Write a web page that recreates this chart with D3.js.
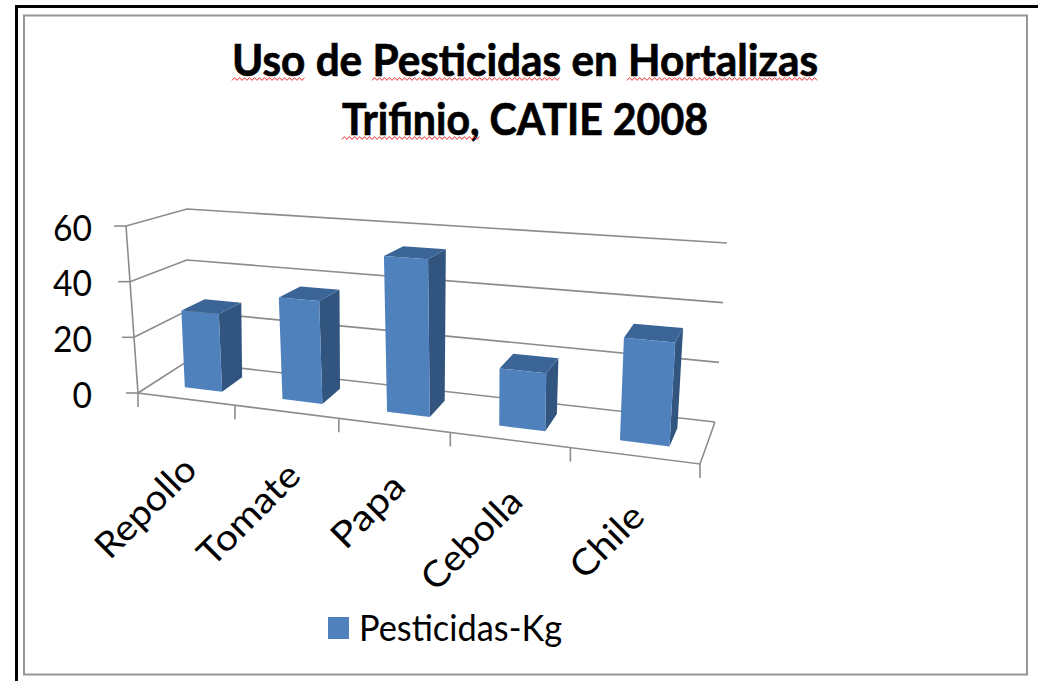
<!DOCTYPE html>
<html><head><meta charset="utf-8">
<script src="https://cdn.jsdelivr.net/npm/d3@7"></script>
<style>html,body{margin:0;padding:0;background:#fff;overflow:hidden}svg{display:block}text{font-family:Lato,Carlito,"Open Sans",sans-serif;fill:#000}</style>
</head><body><div id="chart"></div>
<script>
const titleLines = ["Uso de Pesticidas en Hortalizas", "Trifinio, CATIE 2008"];
const categories = ["Repollo", "Tomate", "Papa", "Cebolla", "Chile"];
const pesticidasKg = [28, 36, 53.5, 19, 33];
const yTicks = [0, 20, 40, 60];
const seriesName = "Pesticidas-Kg";

const W = 1038, H = 681;
const svg = d3.select("#chart").append("svg").attr("width", W).attr("height", H);
const defs = svg.append("defs");
defs.append("filter").attr("id", "soft").append("feGaussianBlur").attr("stdDeviation", 0.45);

// page frame
svg.append("path").attr("d", "M16.5,681V6.5H1038").attr("fill", "none").attr("stroke", "#000").attr("stroke-width", 3);
svg.append("rect").attr("x", 24).attr("y", 15.5).attr("width", 1003).attr("height", 659)
  .attr("fill", "#fff").attr("stroke", "#969696").attr("stroke-width", 2);

// perspective projection of the unit square (u along the front, v into depth)
function homography([p0, p1, p2, p3]) {
  const dx1 = p1[0] - p2[0], dx2 = p3[0] - p2[0], sx = p0[0] - p1[0] + p2[0] - p3[0];
  const dy1 = p1[1] - p2[1], dy2 = p3[1] - p2[1], sy = p0[1] - p1[1] + p2[1] - p3[1];
  const den = dx1 * dy2 - dx2 * dy1;
  const g = (sx * dy2 - dx2 * sy) / den, h = (dx1 * sy - sx * dy1) / den;
  const a = p1[0] - p0[0] + g * p1[0], b = p3[0] - p0[0] + h * p3[0];
  const d = p1[1] - p0[1] + g * p1[1], e = p3[1] - p0[1] + h * p3[1];
  return (u, v) => {
    const w = g * u + h * v + 1;
    return [(a * u + b * v + p0[0]) / w, (d * u + e * v + p0[1]) / w];
  };
}
const floor = homography([[138, 393], [700, 464], [715, 422], [186, 362]]);
const ceil  = homography([[126, 226], [713, 268], [727, 243], [187, 209]]);
const y = d3.scaleLinear().domain([0, 60]).range([0, 1]);
const x = d3.scaleBand().domain(categories).range([0.007, 1.007]).paddingInner(0.61).paddingOuter(0.305);
const P = (u, v, val) => {
  const a = floor(u, v), b = ceil(u, v), t = y(val);
  return [a[0] + (b[0] - a[0]) * t, a[1] + (b[1] - a[1]) * t];
};
const line = d3.line();
const plot = svg.append("g").attr("filter", "url(#soft)");
const grey = "#8c8c8c";
const stroke = s => s.attr("fill", "none").attr("stroke", grey).attr("stroke-width", 1.6);

// walls, floor and ticks
yTicks.forEach(t => {
  plot.append("path").attr("d", line([P(0, 0, t), P(0, 1, t), P(1, 1, t)])).call(stroke);
  const p = P(0, 0, t);
  plot.append("path").attr("d", line([[p[0] - 12, p[1]], p])).call(stroke);
});
plot.append("path").attr("d", line([P(0, 0, 60), P(0, 0, 0), P(1, 0, 0), P(1, 1, 0)])).call(stroke);
d3.range(categories.length + 1).forEach(i => {
  const p = P(i / categories.length, 0, 0);
  plot.append("path").attr("d", line([p, [p[0], p[1] + 14]])).call(stroke);
});

// bars
const vFront = 0.3, vBack = 0.75;
const bars = plot.selectAll("g.bar").data(categories).join("g").attr("class", "bar");
bars.each(function (c, i) {
  const g = d3.select(this), v = pesticidasKg[i];
  const u0 = x(c), u1 = x(c) + x.bandwidth();
  g.append("path").attr("fill", "#31557f").attr("d", line([P(u1, vFront, 0), P(u1, vBack, 0), P(u1, vBack, v), P(u1, vFront, v)]) + "Z");
  g.append("path").attr("fill", "#3b6596").attr("d", line([P(u0, vFront, v), P(u1, vFront, v), P(u1, vBack, v), P(u0, vBack, v)]) + "Z");
  g.append("path").attr("fill", "#4f81bd").attr("d", line([P(u0, vFront, 0), P(u1, vFront, 0), P(u1, vFront, v), P(u0, vFront, v)]) + "Z");
});

// y labels
svg.selectAll("text.ytick").data(yTicks).join("text").attr("class", "ytick")
  .attr("x", 92).attr("y", d => P(0, 0, d)[1] + 14.5)
  .attr("text-anchor", "end").attr("font-size", 36)
  .attr("textLength", d => String(d).length * 19.5).attr("lengthAdjust", "spacingAndGlyphs").text(d => d);

// category labels
const labelEnds = [[191, 464, 126], [295, 470, 128], [400, 481, 88], [517, 496, 126], [639, 511, 88]];
svg.selectAll("text.cat").data(categories).join("text").attr("class", "cat")
  .attr("transform", (d, i) => `translate(${labelEnds[i][0]},${labelEnds[i][1]}) rotate(-45)`)
  .attr("text-anchor", "end").attr("font-size", 36)
  .attr("textLength", (d, i) => labelEnds[i][2]).attr("lengthAdjust", "spacingAndGlyphs")
  .attr("dy", 11).text(d => d);

// title
const titleRuns = [[232, 586, 76], [342, 366, 135]];
svg.selectAll("text.title").data(titleLines).join("text").attr("class", "title")
  .attr("x", (d, i) => titleRuns[i][0]).attr("y", (d, i) => titleRuns[i][2])
  .attr("font-size", 43).attr("font-weight", 700).attr("stroke", "#000").attr("stroke-width", 0.7)
  .attr("textLength", (d, i) => titleRuns[i][1]).attr("lengthAdjust", "spacingAndGlyphs").text(d => d);

// spell-check squiggles
const squiggles = [[232, 306, 79], [372, 561, 79], [627, 818, 79], [342, 481, 138]];
squiggles.forEach(([a, b, yy]) => {
  const pts = d3.range(a, b + 1, 2.5).map((px, k) => [px, yy + (k % 2 ? -1.4 : 1.4)]);
  svg.append("path").attr("d", line(pts)).attr("fill", "none").attr("stroke", "#f03030").attr("stroke-width", 1);
});

// legend
svg.append("rect").attr("x", 328).attr("y", 617).attr("width", 21).attr("height", 22).attr("fill", "#4f81bd");
svg.append("text").attr("x", 359).attr("y", 641).attr("font-size", 36)
  .attr("textLength", 203).attr("lengthAdjust", "spacingAndGlyphs").text(seriesName);
</script></body></html>
